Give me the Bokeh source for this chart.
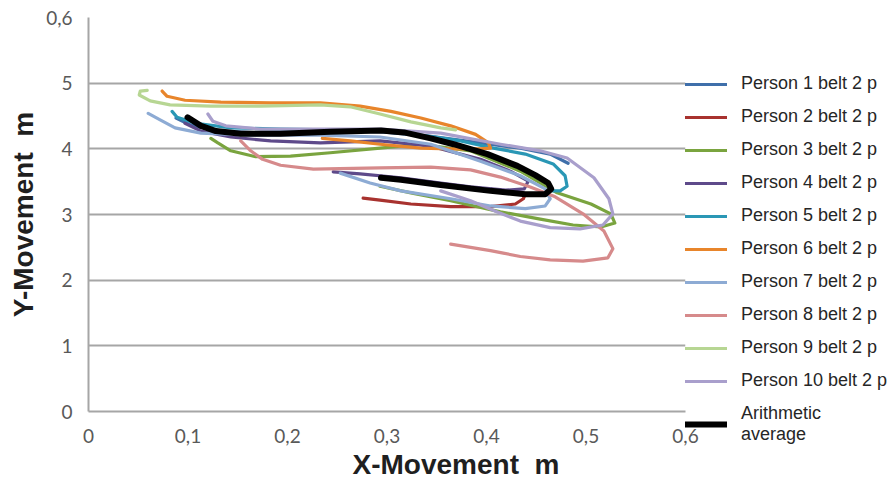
from bokeh.plotting import figure
from bokeh.models import Range1d, FixedTicker, Legend, LegendItem, Title
from bokeh.embed import file_html
from bokeh.resources import INLINE

# ---- trajectories: X-Movement (m) vs Y-Movement ----
p1_x = [0.088, 0.103, 0.133, 0.183, 0.243, 0.293, 0.344, 0.394, 0.434, 0.464, 0.482]
p1_y = [4.47, 4.36, 4.27, 4.24, 4.26, 4.26, 4.19, 4.09, 4.01, 3.92, 3.78]

p2_x = [0.276, 0.293, 0.324, 0.364, 0.404, 0.429, 0.437, 0.439]
p2_y = [3.25, 3.22, 3.16, 3.12, 3.12, 3.16, 3.24, 3.31]

p3_x = [0.123, 0.130, 0.143, 0.168, 0.203, 0.243, 0.293, 0.334, 0.384, 0.434, 0.471,
        0.505, 0.525, 0.529, 0.515, 0.487, 0.454, 0.414, 0.364, 0.324, 0.293]
p3_y = [4.16, 4.09, 3.97, 3.88, 3.89, 3.94, 4.01, 4.07, 3.97, 3.66, 3.33,
        3.16, 3.01, 2.87, 2.81, 2.84, 2.93, 3.04, 3.21, 3.33, 3.43]

p4_x = [0.097, 0.113, 0.143, 0.183, 0.233, 0.293, 0.344, 0.394, 0.424, 0.442, 0.438,
        0.419, 0.384, 0.354, 0.314, 0.273, 0.246]
p4_y = [4.39, 4.27, 4.18, 4.12, 4.09, 4.12, 4.04, 3.84, 3.66, 3.51, 3.39,
        3.37, 3.42, 3.48, 3.56, 3.62, 3.65]

p5_x = [0.084, 0.089, 0.108, 0.143, 0.193, 0.243, 0.293, 0.334, 0.374, 0.407, 0.439,
        0.467, 0.479, 0.481, 0.474, 0.466]
p5_y = [4.57, 4.48, 4.39, 4.32, 4.30, 4.29, 4.27, 4.21, 4.12, 4.01, 3.92,
        3.77, 3.59, 3.43, 3.36, 3.36]

p6_x = [0.074, 0.079, 0.097, 0.133, 0.183, 0.233, 0.273, 0.304, 0.334, 0.364, 0.389,
        0.402, 0.404, 0.394, 0.364, 0.334, 0.293, 0.263, 0.235]
p6_y = [4.88, 4.80, 4.74, 4.71, 4.70, 4.70, 4.65, 4.57, 4.47, 4.35, 4.22,
        4.09, 4.01, 4.00, 4.00, 4.01, 4.07, 4.12, 4.16]

p7_x = [0.060, 0.072, 0.087, 0.113, 0.163, 0.233, 0.293, 0.344, 0.394, 0.434, 0.459,
        0.464, 0.459, 0.439, 0.404, 0.364, 0.314, 0.283, 0.253]
p7_y = [4.54, 4.44, 4.32, 4.24, 4.21, 4.21, 4.18, 4.07, 3.81, 3.59, 3.39,
        3.24, 3.13, 3.09, 3.13, 3.24, 3.36, 3.48, 3.63]

p8_x = [0.153, 0.163, 0.175, 0.193, 0.226, 0.293, 0.344, 0.384, 0.414, 0.444, 0.469,
        0.497, 0.518, 0.527, 0.522, 0.497, 0.464, 0.434, 0.404, 0.364]
p8_y = [4.12, 3.97, 3.84, 3.75, 3.69, 3.71, 3.72, 3.68, 3.57, 3.42, 3.27,
        3.01, 2.75, 2.48, 2.34, 2.29, 2.31, 2.36, 2.45, 2.55]

p9_x = [0.059, 0.052, 0.051, 0.062, 0.082, 0.123, 0.173, 0.233, 0.263, 0.293, 0.324,
        0.354, 0.369]
p9_y = [4.89, 4.88, 4.82, 4.73, 4.67, 4.65, 4.65, 4.67, 4.64, 4.53, 4.41,
        4.32, 4.29]

p10_x = [0.120, 0.125, 0.138, 0.173, 0.233, 0.293, 0.354, 0.414, 0.454, 0.481, 0.508,
         0.523, 0.527, 0.517, 0.494, 0.464, 0.434, 0.409, 0.384, 0.354]
p10_y = [4.53, 4.42, 4.35, 4.30, 4.30, 4.30, 4.24, 4.07, 3.97, 3.86, 3.56,
         3.24, 3.01, 2.84, 2.78, 2.80, 2.90, 3.05, 3.21, 3.36]

avg_x = [0.0995, 0.113, 0.128, 0.153, 0.193, 0.243, 0.294, 0.317, 0.344, 0.367, 0.401,
         0.431, 0.449, 0.462, 0.465, 0.459, 0.439, 0.404, 0.354, 0.314, 0.294]
avg_y = [4.48, 4.35, 4.27, 4.23, 4.23, 4.26, 4.28, 4.25, 4.16, 4.07, 3.92,
         3.74, 3.60, 3.48, 3.39, 3.31, 3.31, 3.36, 3.45, 3.53, 3.56]

series_names = ["Person 1 belt 2 p", "Person 2 belt 2 p", "Person 3 belt 2 p",
                "Person 4 belt 2 p", "Person 5 belt 2 p", "Person 6 belt 2 p",
                "Person 7 belt 2 p", "Person 8 belt 2 p", "Person 9 belt 2 p",
                "Person 10 belt 2 p"]
avg_name = "Arithmetic\naverage"

x_ticks = [0.0, 0.1, 0.2, 0.3, 0.4, 0.5, 0.6]
x_tick_labels = ["0", "0,1", "0,2", "0,3", "0,4", "0,5", "0,6"]
y_ticks = [0, 1, 2, 3, 4, 5, 6]
y_tick_labels = ["0", "1", "2", "3", "4", "5", "0,6"]

xs = [p1_x, p2_x, p3_x, p4_x, p5_x, p6_x, p7_x, p8_x, p9_x, p10_x]
ys = [p1_y, p2_y, p3_y, p4_y, p5_y, p6_y, p7_y, p8_y, p9_y, p10_y]
colors = ["#3F6FAA", "#A8322F", "#7AA43F", "#5E4A8A", "#2A97B5",
          "#E8852B", "#8DABD4", "#D68A8B", "#B7D693", "#A99FCC"]

GRID = "#A6A6A6"
TITLE_FONT = "Liberation Sans"

# fixed frame size so the side legend cannot squeeze the plot area
p = figure(frame_width=597, frame_height=394, output_backend="svg",
           toolbar_location=None,
           x_range=Range1d(0, 0.6), y_range=Range1d(0, 6),
           min_border_left=88, min_border_right=204,
           min_border_top=17, min_border_bottom=80)
p.outline_line_color = None
p.background_fill_color = "white"
p.border_fill_color = "white"

p.xgrid.visible = False
p.ygrid.ticker = FixedTicker(ticks=y_ticks)
p.ygrid.grid_line_color = GRID
p.ygrid.grid_line_width = 2

p.xaxis.ticker = FixedTicker(ticks=x_ticks)
p.xaxis.major_label_overrides = {t: s for t, s in zip(x_ticks, x_tick_labels)}
p.yaxis.ticker = FixedTicker(ticks=y_ticks)
p.yaxis.major_label_overrides = {t: s for t, s in zip(y_ticks, y_tick_labels)}
for ax in (p.xaxis, p.yaxis):
    ax.axis_line_color = GRID
    ax.axis_line_width = 2
    ax.major_tick_line_color = None
    ax.minor_tick_line_color = None
    ax.major_tick_out = 0
    ax.major_tick_in = 0
    ax.major_label_text_font = "Lato"
    ax.major_label_text_font_size = "19px"
    ax.major_label_text_color = "#595959"
p.xaxis.major_label_standoff = 17
p.yaxis.major_label_standoff = 16

p.yaxis.axis_label = "Y-Movement\u00a0 m"
p.yaxis.axis_label_text_font = TITLE_FONT
p.yaxis.axis_label_text_font_style = "bold"
p.yaxis.axis_label_text_font_size = "28px"
p.yaxis.axis_label_text_color = "#1F1F1F"
p.yaxis.axis_label_standoff = 4

# x title sits under the axis, shifted right of the frame centre
x_title = Title(text="X-Movement\u00a0 m", align="left", offset=264,
                text_font=TITLE_FONT, text_font_style="bold",
                text_font_size="28px", text_color="#1F1F1F", standoff=3)
p.add_layout(x_title, "below")

items = []
for name, x, y, c in zip(series_names, xs, ys, colors):
    r = p.line(x, y, line_color=c, line_width=3.2, line_join="round", line_cap="round")
    items.append(LegendItem(label=name, renderers=[r]))
r_avg = p.line(avg_x, avg_y, line_color="black", line_width=6,
               line_join="round", line_cap="round")
items.append(LegendItem(label=avg_name, renderers=[r_avg]))

# a blank legend title pushes the entries down from the top of the side panel
legend = Legend(items=items, location="top_left", orientation="vertical",
                title=" ", title_text_font_size="10px", title_standoff=45,
                label_text_font="Liberation Sans", label_text_font_size="18px",
                label_text_color="#262626", glyph_width=42, glyph_height=20,
                label_height=20, spacing=12, padding=0, margin=0,
                label_standoff=14, border_line_alpha=0, background_fill_alpha=0)
p.add_layout(legend, "right")

open("out.html", "w").write(file_html(p, INLINE))
